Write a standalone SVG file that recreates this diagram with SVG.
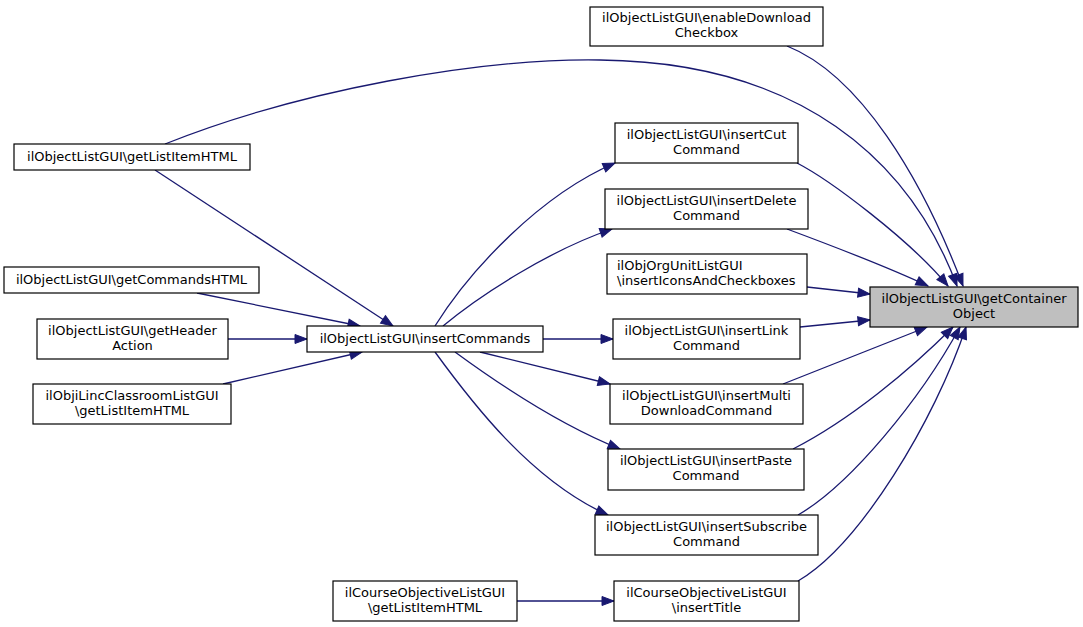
<svg xmlns="http://www.w3.org/2000/svg" width="1083" height="627" viewBox="0 0 1083 627">
<style>
.node rect{fill:#ffffff;stroke:#000000;stroke-width:1.2}
.node.hl rect{fill:#bfbfbf}
.node text{font-family:"DejaVu Sans","Liberation Sans",sans-serif;font-size:13px;fill:#000000;text-anchor:middle}
.node text.l{text-anchor:start}
.edges path{fill:none;stroke:#191970;stroke-width:1.3;marker-end:url(#arr)}
</style>
<defs>
<marker id="arr" markerUnits="userSpaceOnUse" viewBox="0 0 12 9" markerWidth="12" markerHeight="9" refX="12" refY="4.5" orient="auto" overflow="visible">
<path d="M0,0 L12,4.5 L0,9 Z" fill="#191970" stroke="#191970" stroke-width="1"/>
</marker>
</defs>
<rect width="1083" height="627" fill="#ffffff"/>
<g class="edges" id="edges">
<path d="M787,46 C860,75 922,178 963,286"/>
<path d="M165,144 C300,90 480,58 600,60 C800,62 910,160 957,286"/>
<path d="M797,163 C830,180 910,240 948,286"/>
<path d="M787,229 C830,245 890,268 928,286"/>
<path d="M807,287 L870,294"/>
<path d="M800,327 L870,320"/>
<path d="M783,384 L927,327"/>
<path d="M793,449 C850,420 910,370 953,327"/>
<path d="M798,515 C850,485 920,400 960,327"/>
<path d="M798,581 C860,545 935,420 966,327"/>
<path d="M435,326 C470,270 540,195 615,163"/>
<path d="M443,326 C480,295 550,250 612,229"/>
<path d="M543,339 L613,339"/>
<path d="M480,352 L610,384"/>
<path d="M455,352 C500,385 560,425 620,449"/>
<path d="M435,352 C470,400 530,480 608,515"/>
<path d="M155,170 L393,326"/>
<path d="M197,293 L360,326"/>
<path d="M228,339 L307,339"/>
<path d="M223,384 L362,352"/>
<path d="M517,601 L614,601"/>
</g>
<g class="node hl" id="n_getContainerObject">
<rect x="870" y="287" width="208" height="40"/>
<text x="974" y="302.5">ilObjectListGUI\getContainer</text>
<text x="974" y="317.5">Object</text>
</g>
<g class="node" id="n_enableDownloadCheckbox">
<rect x="590" y="7" width="233" height="39"/>
<text x="706.5" y="22">ilObjectListGUI\enableDownload</text>
<text x="706.5" y="37">Checkbox</text>
</g>
<g class="node" id="n_getListItemHTML">
<rect x="14" y="144" width="236" height="26"/>
<text x="132" y="161">ilObjectListGUI\getListItemHTML</text>
</g>
<g class="node" id="n_insertCutCommand">
<rect x="615" y="123" width="183" height="40"/>
<text x="706.5" y="138.5">ilObjectListGUI\insertCut</text>
<text x="706.5" y="153.5">Command</text>
</g>
<g class="node" id="n_insertDeleteCommand">
<rect x="605" y="189" width="203" height="40"/>
<text x="706.5" y="204.5">ilObjectListGUI\insertDelete</text>
<text x="706.5" y="219.5">Command</text>
</g>
<g class="node" id="n_insertIconsAndCheckboxes">
<rect x="607" y="254" width="200" height="40"/>
<text class="l" x="617" y="269.5">ilObjOrgUnitListGUI</text>
<text class="l" x="617" y="284.5">\insertIconsAndCheckboxes</text>
</g>
<g class="node" id="n_insertLinkCommand">
<rect x="613" y="319" width="187" height="40"/>
<text x="706.5" y="334.5">ilObjectListGUI\insertLink</text>
<text x="706.5" y="349.5">Command</text>
</g>
<g class="node" id="n_insertMultiDownloadCommand">
<rect x="610" y="384" width="193" height="40"/>
<text x="706.5" y="399.5">ilObjectListGUI\insertMulti</text>
<text x="706.5" y="414.5">DownloadCommand</text>
</g>
<g class="node" id="n_insertPasteCommand">
<rect x="608" y="449" width="196" height="41"/>
<text x="706" y="465">ilObjectListGUI\insertPaste</text>
<text x="706" y="480">Command</text>
</g>
<g class="node" id="n_insertSubscribeCommand">
<rect x="595" y="515" width="223" height="40"/>
<text x="706.5" y="530.5">ilObjectListGUI\insertSubscribe</text>
<text x="706.5" y="545.5">Command</text>
</g>
<g class="node" id="n_insertTitle">
<rect x="614" y="581" width="185" height="40"/>
<text x="706.5" y="596.5">ilCourseObjectiveListGUI</text>
<text x="706.5" y="611.5">\insertTitle</text>
</g>
<g class="node" id="n_courseGetListItemHTML">
<rect x="333" y="581" width="184" height="40"/>
<text x="425" y="596.5">ilCourseObjectiveListGUI</text>
<text x="425" y="611.5">\getListItemHTML</text>
</g>
<g class="node" id="n_getCommandsHTML">
<rect x="4" y="267" width="255" height="26"/>
<text x="131.5" y="284">ilObjectListGUI\getCommandsHTML</text>
</g>
<g class="node" id="n_getHeaderAction">
<rect x="37" y="319" width="191" height="40"/>
<text x="132.5" y="334.5">ilObjectListGUI\getHeader</text>
<text x="132.5" y="349.5">Action</text>
</g>
<g class="node" id="n_iLincGetListItemHTML">
<rect x="33" y="384" width="198" height="40"/>
<text x="132" y="399.5">ilObjiLincClassroomListGUI</text>
<text x="132" y="414.5">\getListItemHTML</text>
</g>
<g class="node" id="n_insertCommands">
<rect x="307" y="326" width="236" height="26"/>
<text x="425" y="343">ilObjectListGUI\insertCommands</text>
</g>
</svg>
